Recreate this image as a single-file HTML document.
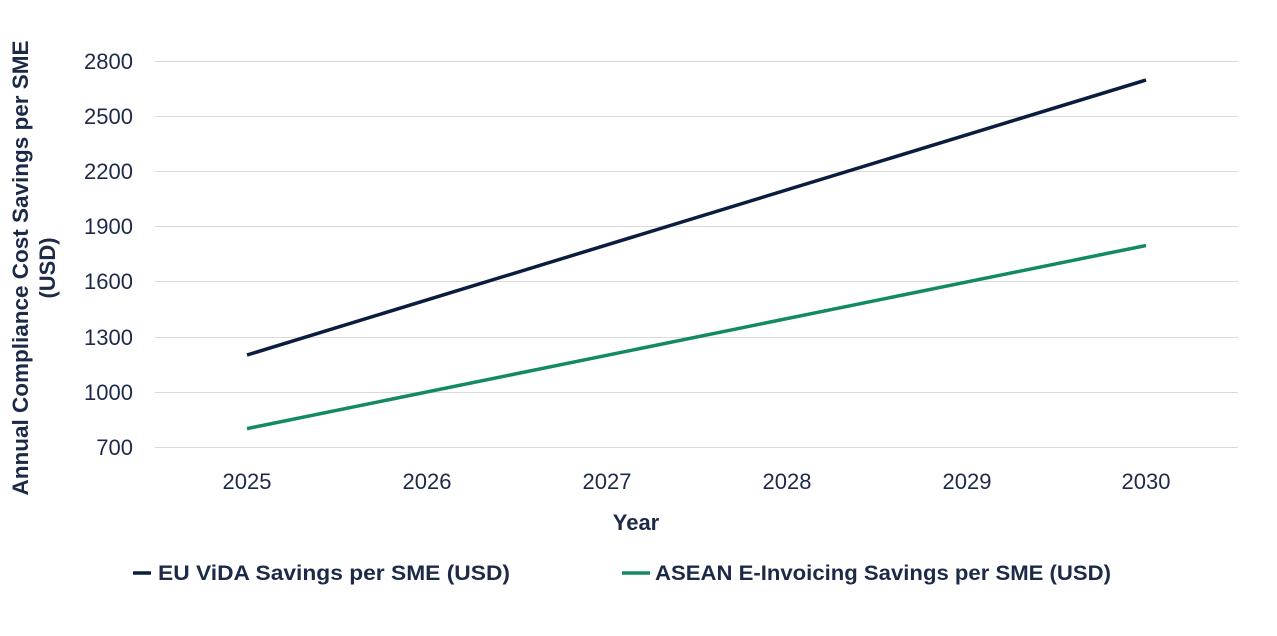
<!DOCTYPE html>
<html><head><meta charset="utf-8"><style>
body{margin:0;background:#fff;}
svg text{font-family:"Liberation Sans",sans-serif;fill:#1c2a48;}
</style></head><body>
<svg width="1277" height="631" viewBox="0 0 1277 631" xmlns="http://www.w3.org/2000/svg">
<g stroke="#d9d9d9" stroke-width="1">
<line x1="155" x2="1238" y1="61.5" y2="61.5"/>
<line x1="155" x2="1238" y1="116.5" y2="116.5"/>
<line x1="155" x2="1238" y1="171.5" y2="171.5"/>
<line x1="155" x2="1238" y1="226.5" y2="226.5"/>
<line x1="155" x2="1238" y1="281.5" y2="281.5"/>
<line x1="155" x2="1238" y1="337.5" y2="337.5"/>
<line x1="155" x2="1238" y1="392.5" y2="392.5"/>
<line x1="155" x2="1238" y1="447.5" y2="447.5"/>
</g>
<g font-size="22" text-anchor="end">
<text x="133" y="69">2800</text>
<text x="133" y="124">2500</text>
<text x="133" y="179">2200</text>
<text x="133" y="234">1900</text>
<text x="133" y="289">1600</text>
<text x="133" y="345">1300</text>
<text x="133" y="400">1000</text>
<text x="133" y="455">700</text>
</g>
<g font-size="22" text-anchor="middle">
<text x="247" y="489">2025</text>
<text x="427" y="489">2026</text>
<text x="607" y="489">2027</text>
<text x="787" y="489">2028</text>
<text x="967" y="489">2029</text>
<text x="1146" y="489">2030</text>
</g>
<text x="636" y="530" font-size="22" font-weight="bold" text-anchor="middle">Year</text>
<g transform="translate(28,268) rotate(-90)" font-size="22" font-weight="bold" text-anchor="middle">
<text x="0" y="0" textLength="455" lengthAdjust="spacingAndGlyphs">Annual Compliance Cost Savings per SME</text>
<text x="0" y="27">(USD)</text>
</g>
<polyline points="247,355 1146,80" fill="none" stroke="#0b1d3f" stroke-width="3.5"/>
<polyline points="247,428.6 1146,245.5" fill="none" stroke="#138a63" stroke-width="3.5"/>
<line x1="133" x2="151" y1="573" y2="573" stroke="#0b1d3f" stroke-width="3.5"/>
<text x="158" y="580" font-size="21" font-weight="bold" textLength="352" lengthAdjust="spacingAndGlyphs">EU ViDA Savings per SME (USD)</text>
<line x1="622" x2="650" y1="573" y2="573" stroke="#138a63" stroke-width="3.5"/>
<text x="655" y="580" font-size="21" font-weight="bold" textLength="456" lengthAdjust="spacingAndGlyphs">ASEAN E-Invoicing Savings per SME (USD)</text>
</svg>
</body></html>
